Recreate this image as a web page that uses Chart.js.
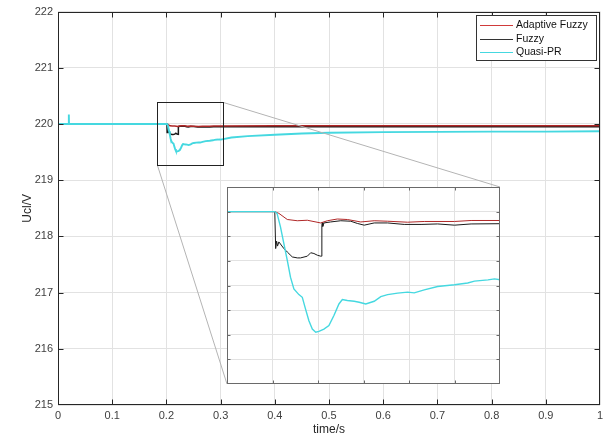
<!DOCTYPE html>
<html><head><meta charset="utf-8">
<script src="https://cdn.jsdelivr.net/npm/chart.js@4.4.1/dist/chart.umd.min.js"></script>
<style>
html,body{margin:0;padding:0;background:#fff;}
#wrap{position:relative;width:611px;height:442px;overflow:hidden;}
#main{position:absolute;left:0;top:0;}
#inset{position:absolute;left:227px;top:187px;background:#fff;}
</style></head><body>
<div id="wrap"><canvas id="main" width="611" height="442"></canvas><canvas id="inset" width="273" height="197"></canvas></div>
<script>
// ---------- data ----------
const xTickValues = [0,0.1,0.2,0.3,0.4,0.5,0.6,0.7,0.8,0.9,1];
const xTickLabels = ['0','0.1','0.2','0.3','0.4','0.5','0.6','0.7','0.8','0.9','1'];
const yTickValues = [215,216,217,218,219,220,221,222];
const yTickLabels = ['215','216','217','218','219','220','221','222'];
const insetXTicks = [0.18,0.20,0.22,0.24,0.26,0.28,0.30];
const insetYTicks = [219.3,219.4,219.5,219.6,219.7,219.8,219.9,220.0,220.1];
const seriesLabels = ['Adaptive Fuzzy','Fuzzy','Quasi-PR'];

const adaptiveTime  = [0,0.2010,0.2028,0.2065,0.2109,0.2153,0.2212,0.2241,0.2285,0.2329,0.2388,0.2447,0.2506,0.2594,0.2667,0.2800,0.2873,0.3003,0.4,0.6,0.8,1.0];
const adaptiveValue = [220,220,219.993,219.968,219.963,219.965,219.954,219.963,219.970,219.968,219.958,219.963,219.961,219.957,219.960,219.960,219.964,219.964,219.968,219.968,219.967,219.968];

const fuzzyTime  = [0,0.2010,0.2014,0.2018,0.2022,0.2028,0.2050,0.2065,0.2087,0.2109,0.2123,0.2153,0.2168,0.2182,0.2197,0.2212,0.2215,0.2217,0.2219,0.2221,0.2226,0.2255,0.2300,0.2344,0.2373,0.2403,0.2447,0.2506,0.2579,0.2653,0.2726,0.2800,0.2873,0.3003,0.4,0.6,0.8,1.0];
const fuzzyValue = [220,220,219.850,219.880,219.860,219.877,219.850,219.836,219.816,219.812,219.812,219.819,219.833,219.830,219.823,219.819,219.819,219.945,219.957,219.940,219.954,219.958,219.963,219.961,219.952,219.945,219.954,219.954,219.948,219.948,219.950,219.945,219.950,219.951,219.950,219.950,219.951,219.951];

const quasiTime  = [0,0.0195,0.0200,0.0203,0.2010,0.2020,0.2035,0.2050,0.2065,0.2079,0.2094,0.2116,0.2131,0.2145,0.2160,0.2175,0.2190,0.2204,0.2226,0.2248,0.2270,0.2292,0.2307,0.2329,0.2359,0.2381,0.2410,0.2447,0.2476,0.2506,0.2550,0.2594,0.2623,0.2667,0.2726,0.2800,0.2858,0.2888,0.2947,0.2976,0.3003,0.32,0.35,0.40,0.45,0.50,0.60,0.70,0.80,0.90,1.00];
const quasiValue = [220,220,220.17,220,220,219.993,219.938,219.870,219.802,219.734,219.686,219.663,219.652,219.605,219.557,219.523,219.510,219.514,219.523,219.537,219.578,219.625,219.643,219.639,219.636,219.632,219.625,219.636,219.655,219.663,219.669,219.673,219.670,219.682,219.696,219.703,219.710,219.718,219.723,219.727,219.723,219.760,219.785,219.810,219.830,219.845,219.855,219.860,219.865,219.865,219.870];

const seriesColors = ['#b02828','#1a1a1a','#45d8e0'];

// zoom-box annotation (data coordinates of the rectangle drawn on the main plot)
const zoomBox = {x0:0.182, x1:0.304, y0:219.27, y1:220.40};
const insetRect = {left:227, top:187, width:273, height:197};

// ---------- helpers ----------
const FONT = '"Liberation Sans", Arial, Helvetica, sans-serif';
function pts(t, v){ return t.map((x,i)=>({x:x, y:v[i]})); }
function makeDatasets(lw){
  return [
    {label:seriesLabels[0], data:pts(adaptiveTime,adaptiveValue), borderColor:seriesColors[0], borderWidth:lw, order:2},
    {label:seriesLabels[1], data:pts(fuzzyTime,fuzzyValue), borderColor:seriesColors[1], borderWidth:lw, order:3},
    {label:seriesLabels[2], data:pts(quasiTime,quasiValue), borderColor:seriesColors[2], borderWidth:lw+0.4, order:1}
  ].map(d=>Object.assign(d,{pointRadius:0,tension:0,fill:false}));
}

const framePlugin = {
  id:'frame',
  afterDraw(chart, args, opts){
    const {ctx, chartArea:a, scales:{x,y}} = chart;
    const L = Math.round(a.left)+0.5, R = Math.round(a.right)-0.5, T = Math.round(a.top)+0.5, B = Math.round(a.bottom)-0.5;
    ctx.save();
    ctx.strokeStyle = opts.color; ctx.lineWidth = 1;
    ctx.beginPath();
    const tl = opts.tick;
    x.ticks.forEach(t=>{
      const px = Math.round(x.getPixelForValue(t.value))+0.5;
      if (px<=L+1 || px>=R-1) return;
      ctx.moveTo(px,B); ctx.lineTo(px,B-tl);
      ctx.moveTo(px,T); ctx.lineTo(px,T+tl);
    });
    y.ticks.forEach(t=>{
      const py = Math.round(y.getPixelForValue(t.value))+0.5;
      if (py<=T+1 || py>=B-1) return;
      ctx.moveTo(L,py); ctx.lineTo(L+tl,py);
      ctx.moveTo(R,py); ctx.lineTo(R-tl,py);
    });
    ctx.stroke();
    ctx.strokeRect(L,T,R-L,B-T);
    ctx.restore();
  }
};

const zoomPlugin = {
  id:'zoomBox',
  afterDatasetsDraw(chart){
    const {ctx, scales:{x,y}} = chart;
    const bx0 = Math.round(x.getPixelForValue(zoomBox.x0))+0.5;
    const bx1 = Math.round(x.getPixelForValue(zoomBox.x1))+0.5;
    const by0 = Math.round(y.getPixelForValue(zoomBox.y0))+0.5;
    const by1 = Math.round(y.getPixelForValue(zoomBox.y1))+0.5;
    ctx.save();
    ctx.strokeStyle = '#b4b4b4'; ctx.lineWidth = 1;
    ctx.beginPath();
    ctx.moveTo(bx0,by0); ctx.lineTo(insetRect.left, insetRect.top+insetRect.height);
    ctx.moveTo(bx1,by1); ctx.lineTo(insetRect.left+insetRect.width, insetRect.top);
    ctx.stroke();
    ctx.strokeStyle = '#222'; ctx.lineWidth = 1;
    ctx.strokeRect(bx0,by1,bx1-bx0,by0-by1);
    ctx.restore();
  }
};

const legendPlugin = {
  id:'boxLegend',
  afterDraw(chart){
    const {ctx} = chart;
    const bx = 476.5, by = 15.5, bw = 120, bh = 45;
    ctx.save();
    ctx.fillStyle = '#fff'; ctx.fillRect(bx,by,bw,bh);
    ctx.strokeStyle = '#333'; ctx.lineWidth = 1; ctx.strokeRect(bx,by,bw,bh);
    ctx.font = '10.5px ' + FONT; ctx.textBaseline = 'middle'; ctx.fillStyle = '#111';
    const rows = [25, 39, 52];
    const legendColors = ['#d03a3a','#333333','#45d8e0'];
    chart.data.datasets.forEach((d,i)=>{
      ctx.strokeStyle = legendColors[i]; ctx.lineWidth = 1.2;
      ctx.beginPath(); ctx.moveTo(480, rows[i]+0.5); ctx.lineTo(513, rows[i]+0.5); ctx.stroke();
      ctx.fillText(d.label, 516, rows[i]+0.5);
    });
    ctx.restore();
  }
};

Chart.defaults.font.family = FONT;

// ---------- main chart ----------
new Chart(document.getElementById('main'), {
  type:'line',
  data:{datasets:makeDatasets(1.5)},
  plugins:[zoomPlugin, framePlugin, legendPlugin],
  options:{
    responsive:false, animation:false, devicePixelRatio:1,
    layout:{padding:{top:8,right:11,left:0,bottom:0}},
    plugins:{legend:{display:false}, tooltip:{enabled:false}, frame:{color:'#262626', tick:5}},
    scales:{
      x:{type:'linear', min:0, max:1,
        afterBuildTicks(s){ s.ticks = xTickValues.map(v=>({value:v})); },
        afterFit(s){ s.height = 37; },
        ticks:{callback:(v,i)=>xTickLabels[i], color:'#404040', font:{size:11}, padding:4, maxRotation:0, autoSkip:false},
        grid:{color:'#e2e2e2', drawTicks:false}, border:{display:false},
        title:{display:true, text:'time/s', color:'#262626', font:{size:12}, padding:{top:0,bottom:5}}
      },
      y:{type:'linear', min:215, max:222,
        afterBuildTicks(s){ s.ticks = yTickValues.map(v=>({value:v})); },
        afterFit(s){ s.width = 58; },
        ticks:{callback:(v,i)=>yTickLabels[i], color:'#404040', font:{size:11}, padding:5, autoSkip:false},
        grid:{color:'#e2e2e2', drawTicks:false}, border:{display:false},
        title:{display:true, text:'Ucl/V', color:'#262626', font:{size:12}, padding:{top:20,bottom:0}}
      }
    }
  }
});

// ---------- inset chart ----------
new Chart(document.getElementById('inset'), {
  type:'line',
  data:{datasets:makeDatasets(1)},
  plugins:[framePlugin],
  options:{
    responsive:false, animation:false, devicePixelRatio:1,
    layout:{padding:0},
    plugins:{legend:{display:false}, tooltip:{enabled:false}, frame:{color:'#6a6a6a', tick:3}},
    scales:{
      x:{type:'linear', min:insetXTicks[0], max:insetXTicks[insetXTicks.length-1],
        afterBuildTicks(s){ s.ticks = insetXTicks.map(v=>({value:v})); },
        afterFit(s){ s.height = 0; },
        ticks:{display:false}, grid:{color:'#e2e2e2', drawTicks:false}, border:{display:false}
      },
      y:{type:'linear', min:insetYTicks[0], max:insetYTicks[insetYTicks.length-1],
        afterBuildTicks(s){ s.ticks = insetYTicks.map(v=>({value:v})); },
        afterFit(s){ s.width = 0; },
        ticks:{display:false}, grid:{color:'#e2e2e2', drawTicks:false}, border:{display:false}
      }
    }
  }
});
</script>
</body></html>
